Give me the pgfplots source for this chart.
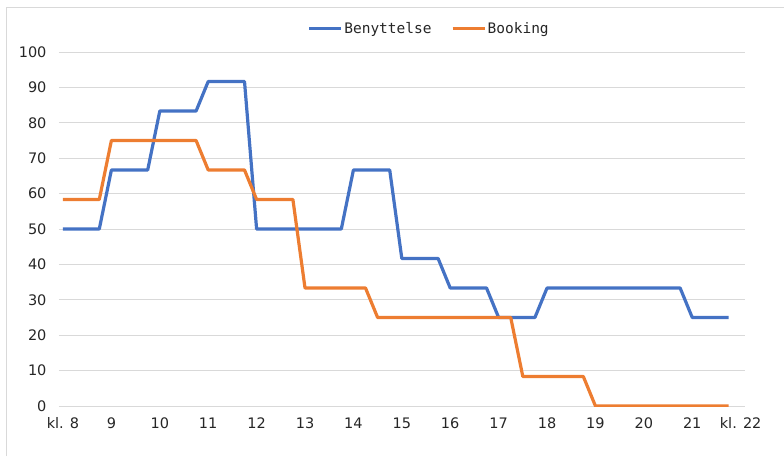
\documentclass[border=0pt]{standalone}
\usepackage{fontspec}
\setmainfont{DejaVu Sans}
\newfontfamily\legfont{DejaVu Sans Mono}
\usepackage{pgfplots}
\pgfplotsset{compat=1.18}

\definecolor{xlblue}{HTML}{4472C4}
\definecolor{xlorange}{HTML}{ED7D31}
\definecolor{gridgray}{HTML}{D9D9D9}

\begin{document}
\begin{tikzpicture}
\begin{axis}[
    scale only axis,
    width=686pt,
    height=354pt,
    xmin=-0.33, xmax=56.36,
    ymin=0, ymax=100,
    ytick={0,10,...,100},
    xtick={0,4,...,56},
    xticklabels={kl. 8,9,10,11,12,13,14,15,16,17,18,19,20,21,kl. 22},
    axis line style={draw=none},
    major tick length=0pt,
    ymajorgrids,
    grid style={gridgray, line width=1pt},
    /pgf/number format/assume math mode=true,
    ticklabel style={font=\fontsize{14.5}{17}\selectfont, text=black!85},
    yticklabel style={xshift=-9pt},
    xticklabel style={yshift=-8pt},
    legend style={at={(0.5394,1.065)}, anchor=center, draw=none, fill=none,
        font=\legfont\fontsize{14.5}{17}\selectfont, text=black!85,
        /tikz/every even column/.append style={column sep=18pt},
        nodes={inner sep=1.5pt}},
    legend columns=-1,
    legend image code/.code={\draw[#1, line width=3pt] (0pt,0pt) -- (32pt,0pt);},
    every axis plot/.append style={line width=3.2pt, line join=round, mark=none},
]

\addplot[xlblue] coordinates {
    (0,50) (1,50) (2,50) (3,50)
    (4,66.67) (5,66.67) (6,66.67) (7,66.67)
    (8,83.33) (9,83.33) (10,83.33) (11,83.33)
    (12,91.67) (13,91.67) (14,91.67) (15,91.67)
    (16,50) (17,50) (18,50) (19,50) (20,50) (21,50) (22,50) (23,50)
    (24,66.67) (25,66.67) (26,66.67) (27,66.67)
    (28,41.67) (29,41.67) (30,41.67) (31,41.67)
    (32,33.33) (33,33.33) (34,33.33) (35,33.33)
    (36,25) (37,25) (38,25) (39,25)
    (40,33.33) (41,33.33) (42,33.33) (43,33.33) (44,33.33) (45,33.33)
    (46,33.33) (47,33.33) (48,33.33) (49,33.33) (50,33.33) (51,33.33)
    (52,25) (53,25) (54,25) (55,25)
};

\addplot[xlorange] coordinates {
    (0,58.33) (1,58.33) (2,58.33) (3,58.33)
    (4,75) (5,75) (6,75) (7,75) (8,75) (9,75) (10,75) (11,75)
    (12,66.67) (13,66.67) (14,66.67) (15,66.67)
    (16,58.33) (17,58.33) (18,58.33) (19,58.33)
    (20,33.33) (21,33.33) (22,33.33) (23,33.33) (24,33.33) (25,33.33)
    (26,25) (27,25) (28,25) (29,25) (30,25) (31,25)
    (32,25) (33,25) (34,25) (35,25) (36,25) (37,25)
    (38,8.33) (39,8.33) (40,8.33) (41,8.33) (42,8.33) (43,8.33)
    (44,0) (45,0) (46,0) (47,0) (48,0) (49,0)
    (50,0) (51,0) (52,0) (53,0) (54,0) (55,0)
};

\legend{Benyttelse, Booking}
\end{axis}
% chart area frame (cropped at right and bottom)
\draw[gridgray, line width=1pt] (-52pt,-50pt) -- (-52pt,398pt) -- (725pt,398pt);
\pgfresetboundingbox
\useasboundingbox (-59pt,-50pt) rectangle (725pt,406pt);
\end{tikzpicture}
\end{document}
